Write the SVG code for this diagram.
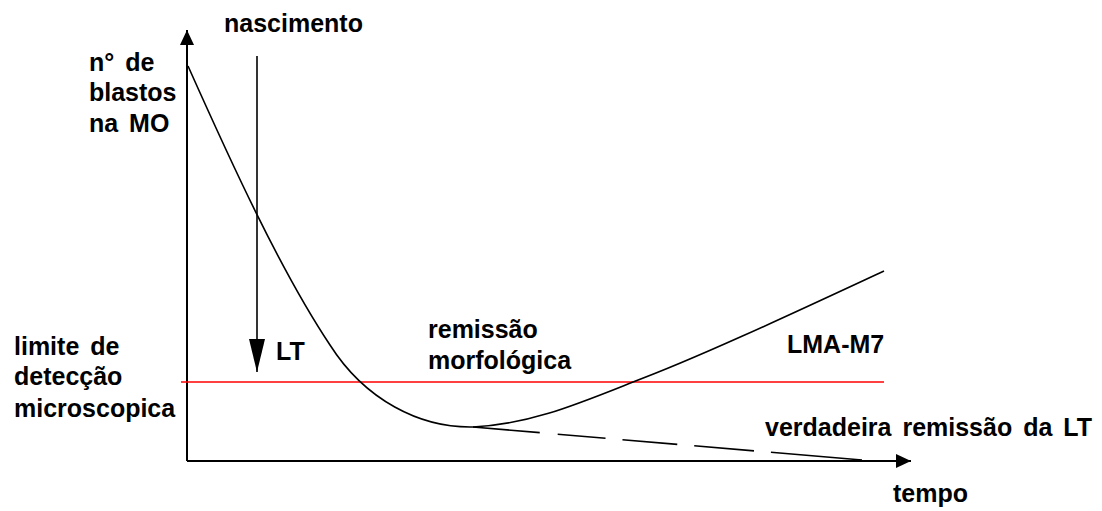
<svg xmlns="http://www.w3.org/2000/svg" width="1102" height="511" viewBox="0 0 1102 511">
<style>
.lbl{font-family:"Liberation Sans",Arial,sans-serif;font-weight:bold;font-size:25px;fill:#000;word-spacing:4px}
.axis{stroke:#000;stroke-width:2;fill:none}
.curve{stroke:#000;stroke-width:1.6;fill:none}
.limit{stroke:#ff0000;stroke-width:1.6;fill:none}
</style>
<defs>
<marker id="axisHead" markerUnits="userSpaceOnUse" markerWidth="16" markerHeight="16" refX="15" refY="7" orient="auto">
<path d="M0,0 L15,7 L0,14 z" fill="#000"/>
</marker>
<marker id="ltHead" markerUnits="userSpaceOnUse" markerWidth="34" markerHeight="18" refX="33" refY="8" orient="auto">
<path d="M0,0 L33,8 L0,16 z" fill="#000"/>
</marker>
</defs>
<rect width="1102" height="511" fill="#fff"/>
<g id="connectors">
<line id="y-axis" class="axis" x1="187" y1="461" x2="187" y2="30" marker-end="url(#axisHead)"/>
<line id="x-axis" class="axis" x1="187" y1="461" x2="911" y2="461" marker-end="url(#axisHead)"/>
<line id="nascimento-arrow" class="axis" style="stroke-width:1.6" x1="257" y1="56" x2="257" y2="372" marker-end="url(#ltHead)"/>
<line id="limite" class="limit" x1="181" y1="382" x2="884" y2="382"/>
<path id="queda" class="curve" d="M188 66 C230 160 280 270 330 345 C365 400 420 428 473 427"/>
<path id="lma-m7" class="curve" d="M473 427 C530 424 575 405 633 382 C700 357 800 310 884 271"/>
<path id="verdadeira" class="curve" stroke-dasharray="67 18 48 17 55 17 60 17 100" d="M473 427 L862 460"/>
</g>
<g id="label-nascimento"><text class="lbl" x="224" y="32">nascimento</text></g>
<g id="label-blastos">
<text class="lbl" x="89" y="71">n° de</text>
<text class="lbl" x="89" y="101">blastos</text>
<text class="lbl" x="89" y="132">na MO</text>
</g>
<g id="label-limite">
<text class="lbl" x="14" y="355">limite de</text>
<text class="lbl" x="14" y="385">detecção</text>
<text class="lbl" x="14" y="417">microscopica</text>
</g>
<g id="label-lt"><text class="lbl" x="276" y="360">LT</text></g>
<g id="label-remissao">
<text class="lbl" x="428" y="338">remissão</text>
<text class="lbl" x="428" y="369">morfológica</text>
</g>
<g id="label-lma"><text class="lbl" x="787" y="353">LMA-M7</text></g>
<g id="label-verdadeira"><text class="lbl" x="765" y="436">verdadeira remissão da LT</text></g>
<g id="label-tempo"><text class="lbl" x="893" y="502">tempo</text></g>
</svg>
